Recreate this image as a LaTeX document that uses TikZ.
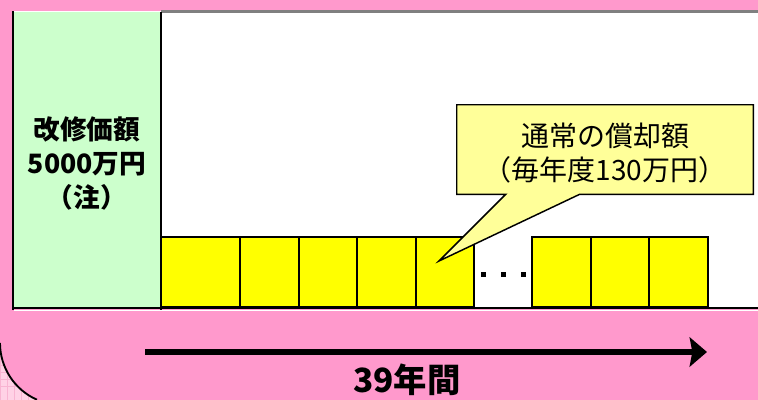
\documentclass[tikz,border=0pt]{standalone}
\usepackage{fontspec}
\newfontfamily\jp{Noto Sans CJK JP}
\usetikzlibrary{arrows.meta,calc}
\definecolor{pinkbg}{HTML}{FF99CC}
\definecolor{pinklt}{HTML}{FFD2E6}
\definecolor{pinkgrid}{HTML}{F8B4D2}
\definecolor{greenbg}{HTML}{CCFFCC}
\definecolor{ybox}{HTML}{FFFF00}
\definecolor{ycall}{HTML}{FFFF99}
\tikzset{
  yearbox/.style={draw=black, line width=1.5pt, fill=ybox, anchor=south west,
    minimum height={70*0.75pt}, inner sep=0pt, outer sep=0pt},
  dotsq/.style={fill=black, minimum size={5*0.75pt}, inner sep=0pt},
  lbl/.style={font=\jp, text=black, align=center, inner sep=0pt},
}
\begin{document}
\begin{tikzpicture}[x=0.75pt,y=-0.75pt]
\useasboundingbox (0,0) rectangle (758,400);
% background
\fill[pinkbg] (0,0) rectangle (758,400);
% lower-left outer corner with grid
\begin{scope}
  \clip (0,343) arc[start angle=180,end angle=113.8,radius=62] -- (0,400) -- cycle;
  \fill[pinklt] (0,330) rectangle (60,400);
  \foreach \g in {0,7,...,60} {
    \draw[pinkgrid, line width=0.4pt] (\g,330) -- (\g,400);
    \draw[pinkgrid, line width=0.4pt] (0,330+\g) -- (60,330+\g);
  }
\end{scope}
\draw[black, line width=1.4pt] (0,343) arc[start angle=180,end angle=113.8,radius=62];
% white panel
\fill[white] (13,11) rectangle (758,309);
\fill[gray] (161,10) rectangle (758,13);
\fill[greenbg] (13,12) rectangle (161,308);
% yellow boxes
\node[yearbox, minimum width={79*0.75pt}] (b1) at (161,307) {};
\node[yearbox, minimum width={59*0.75pt}] (b2) at (240,307) {};
\node[yearbox, minimum width={58*0.75pt}] (b3) at (299,307) {};
\node[yearbox, minimum width={59*0.75pt}] (b4) at (357,307) {};
\node[yearbox, minimum width={58*0.75pt}] (b5) at (416,307) {};
\node[yearbox, minimum width={59*0.75pt}] (b6) at (532,307) {};
\node[yearbox, minimum width={58*0.75pt}] (b7) at (591,307) {};
\node[yearbox, minimum width={59*0.75pt}] (b8) at (649,307) {};
% dots
\node[dotsq] (d1) at (483,274.5) {};
\node[dotsq] (d2) at (503,274.5) {};
\node[dotsq] (d3) at (523,274.5) {};
% panel borders
\draw[black, line width=1.6pt] (13,11) -- (13,309.5);
\draw[black, line width=1.6pt] (161,12) -- (161,311);
\draw[black, line width=1.8pt] (12,308) -- (758,308);
\draw[white, line width=0.8pt] (14,310.5) -- (758,310.5);
% callout
\node[lbl, minimum width={296*0.75pt}, minimum height={89*0.75pt}] (call) at (605,149.5) {};
\coordinate (tip) at (439,261);
\filldraw[fill=ycall, draw=black, line width=1.1pt, line join=miter]
  (call.north west) -- (call.north east) -- (call.south east)
  -- ($(call.south west)+(123,0)$) -- (tip) -- ($(call.south west)+(49,0)$)
  -- (call.south west) -- cycle;
\node[lbl, font=\jp\fontsize{21pt}{25.5pt}\selectfont] (calltxt) at (605,153)
  {通常の償却額\\（毎年度130万円）};
% green text
\node[lbl, font=\jp\bfseries\fontsize{20pt}{25.5pt}\selectfont] (kaishu) at (87,163)
  {改修価額\\5000万円\\（注）};
% arrow
\coordinate (a0) at (145,352);
\coordinate (a1) at (707,352);
\draw[black, line width=4.6pt, -{Stealth[length=13pt, width=22pt, inset=2pt]}] (a0) -- (a1);
\node[lbl, font=\jp\bfseries\fontsize{25pt}{28pt}\selectfont, anchor=north] (years) at (407,364) {39年間};
\end{tikzpicture}
\end{document}
